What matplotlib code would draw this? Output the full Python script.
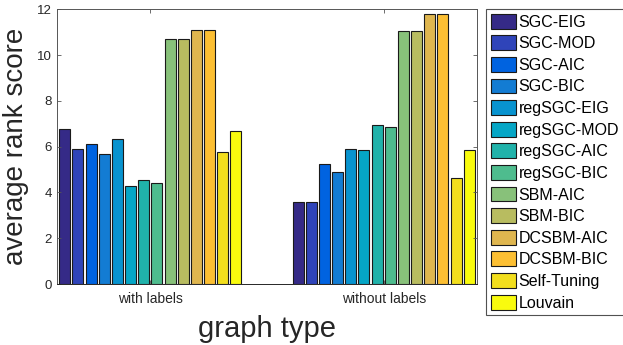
import numpy as np
import matplotlib
matplotlib.use("Agg")
import matplotlib.pyplot as plt

plt.rcParams['font.family'] = ['Liberation Sans', 'DejaVu Sans']

groups = ['with labels', 'without labels']
methods = ['SGC-EIG', 'SGC-MOD', 'SGC-AIC', 'SGC-BIC', 'regSGC-EIG', 'regSGC-MOD',
           'regSGC-AIC', 'regSGC-BIC', 'SBM-AIC', 'SBM-BIC', 'DCSBM-AIC', 'DCSBM-BIC',
           'Self-Tuning', 'Louvain']
with_labels = [6.76, 5.90, 6.14, 5.69, 6.33, 4.28, 4.54, 4.40, 10.69, 10.69,
               11.12, 11.12, 5.75, 6.67]
without_labels = [3.57, 3.57, 5.25, 4.88, 5.90, 5.85, 6.94, 6.86, 11.08, 11.08,
                  11.79, 11.79, 4.62, 5.85]
colors = ['#352a87', '#2f44b9', '#0063e0', '#137cd3', '#0893cf', '#05a6c6',
          '#20b2aa', '#4ebc8e', '#88c17a', '#b8bc60', '#dfb64f', '#fcbf33',
          '#f2de1d', '#f9fb0e']

scores = np.array([with_labels, without_labels])
x = np.arange(1, len(groups) + 1)
n = len(methods)
pitch = 0.79 / n

fig = plt.figure(figsize=(6.23, 3.45), dpi=100)
ax = fig.add_axes([0.0915, 0.1768, 0.6742, 0.7957])

for i in range(n):
    ax.bar(x + (i - (n - 1) / 2) * pitch, scores[:, i], width=pitch * 0.84,
           color=colors[i], edgecolor='#1a1a1a', linewidth=0.8, label=methods[i])

ax.set_xlim(0.6, 2.4)
ax.set_ylim(0, 12)
ax.set_xticks(x)
ax.set_xticklabels(groups)
ax.set_yticks(np.arange(0, 13, 2))
ax.tick_params(direction='in', top=True, right=True, length=3, width=0.6,
               colors='#555555', labelcolor='#262626', labelsize=9.5)
ax.tick_params(axis='x', labelsize=10, pad=6)
for s in ax.spines.values():
    s.set_color('#555555')
    s.set_linewidth(0.7)
ax.spines['bottom'].set_color('#262626')

ax.set_xlabel('graph type', fontsize=21, color='#262626', labelpad=6)
ax.set_ylabel('average rank score', fontsize=20, color='#262626', labelpad=6)

leg = fig.legend(loc='upper left', bbox_to_anchor=(486 / 623, 1 - 9 / 345),
                 fontsize=11.5, frameon=True, fancybox=False, handlelength=1.6,
                 handleheight=1.05, handletextpad=0.15, labelspacing=0.36,
                 borderpad=0.3, borderaxespad=0)
leg.get_frame().set_edgecolor('#262626')
leg.get_frame().set_linewidth(0.8)

fig.savefig('out.png', dpi=100)
